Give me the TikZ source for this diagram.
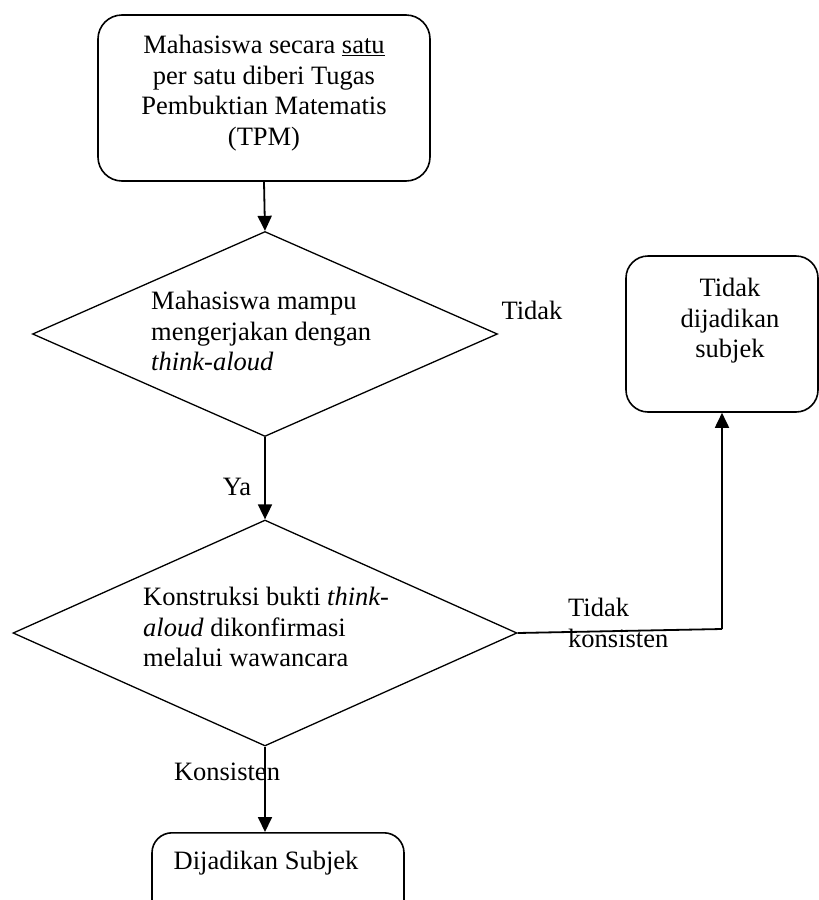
\documentclass[tikz,border=0pt]{standalone}
\usepackage{fontspec}
\setmainfont{Liberation Serif}
\usetikzlibrary{shapes.geometric,arrows.meta}
\begin{document}
\begin{tikzpicture}[x=1pt,y=-1pt,
  box/.style={draw,line width=1.6pt,rounded corners=24pt,inner sep=0pt},
  dia/.style={draw,diamond,line width=1.3pt,inner sep=0pt},
  lbl/.style={font=\fontsize{26.5}{30.5}\selectfont,inner sep=0pt},
  conn/.style={line width=1.8pt,-{Triangle[length=15pt,width=14pt]}},
  plainline/.style={line width=1.8pt}]
\useasboundingbox (0,0) rectangle (819,900);
\node[box,minimum width=332pt,minimum height=166pt] (b1) at (264,98) {};
\node[lbl,align=center] (t1) at (264,93) {Mahasiswa secara \underline{satu}\\per satu diberi Tugas\\Pembuktian Matematis\\(TPM)};
\node[dia,minimum width=465pt,minimum height=205pt] (d1) at (265,334) {};
\node[lbl,align=left,anchor=west] (t2) at (151,331) {Mahasiswa mampu\\mengerjakan dengan\\\textit{think-aloud}};
\node[lbl] (tidak1) at (532,310) {Tidak};
\node[dia,minimum width=504pt,minimum height=226pt] (d2) at (265,633) {};
\node[lbl,align=left,anchor=west] (t3) at (143,627) {Konstruksi bukti \textit{think-}\\\textit{aloud} dikonfirmasi\\melalui wawancara};
\node[lbl] (ya) at (237,487) {Ya};
\node[box,rounded corners=22pt,minimum width=192pt,minimum height=156pt] (b2) at (722,334) {};
\node[lbl,align=center] (t4) at (730,321) {Tidak\\dijadikan\\subjek};
\node[lbl,align=left,anchor=west] (tk) at (568,623) {Tidak\\konsisten};
\node[box,rounded corners=20pt,minimum width=252pt,minimum height=90pt,anchor=north] (b3) at (278,832) {};
\node[lbl] (t5) at (266,863) {Dijadikan Subjek};
\node[lbl] (kons) at (227,772) {Konsisten};
\coordinate (k) at (722,629);
\draw[conn] (b1.south) -- (d1.north);
\draw[conn] (d1.south) -- (d2.north);
\draw[plainline] (d2.east) -- (k);
\draw[conn] (k) -- (b2.south);
\draw[conn] (d2.south) -- (d2.south |- b3.north);
\end{tikzpicture}
\end{document}
